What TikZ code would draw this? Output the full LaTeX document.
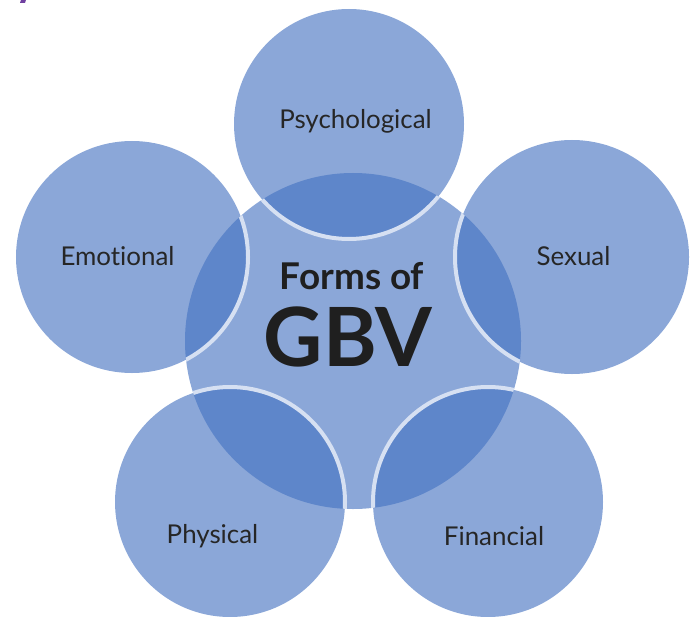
\documentclass[tikz,border=0pt]{standalone}
\usepackage{fontspec}
\setmainfont{Lato}[Ligatures=NoCommon]
\definecolor{lightb}{HTML}{8BA7D8}
\definecolor{darkb}{HTML}{5E86CA}
\definecolor{rimb}{HTML}{D6E0F2}
\definecolor{purp}{HTML}{7040A0}
\begin{document}
\begin{tikzpicture}[x=1bp,y=-1bp,
  lbl/.style={font=\fontsize{26}{28}\selectfont, text=black!85, anchor=base, inner sep=0pt},
  rim/.style={draw=rimb, line width=4bp}]
\useasboundingbox (0,0) rectangle (695,617);
\fill[purp] (21,0) -- (26,0) -- (25,3) -- (20,3) -- cycle;
\coordinate (C) at (353,341);
\coordinate (P) at (349,124);
\coordinate (E) at (132,257);
\coordinate (S) at (572,257);
\coordinate (Ph) at (230,502);
\coordinate (F) at (488,502);
% base fills
\foreach \c/\r in {C/168,P/115,E/116,S/117,Ph/115,F/115}
  \fill[lightb] (\c) circle[radius=\r bp];
% overlaps
\begin{scope}
  \clip (C) circle[radius=168bp];
  \foreach \c/\r in {P/115,E/116,S/117,Ph/115,F/115}
    \fill[darkb] (\c) circle[radius=\r bp];
  \foreach \c/\r in {P/115,E/116,S/117,Ph/115,F/115}
    \draw[rim] (\c) circle[radius=\r bp];
\end{scope}
\node[lbl] (tP) at (355.5,129) {Psychological};
\node[lbl] (tE) at (117.5,265) {Emotional};
\node[lbl] (tS) at (573.5,265) {Sexual};
\node[lbl] (tPh) at (212.5,543) {Physical};
\node[lbl] (tF) at (494,545) {Financial};
\node[font=\fontsize{37}{40}\selectfont\bfseries, text=black!88, anchor=base, inner sep=0pt] (t1) at (352,289) {Forms of};
\node[font=\fontsize{82}{82}\selectfont\bfseries, text=black!88, anchor=base, inner sep=0pt] (t2) at (348,366) {GBV};
\end{tikzpicture}
\end{document}
